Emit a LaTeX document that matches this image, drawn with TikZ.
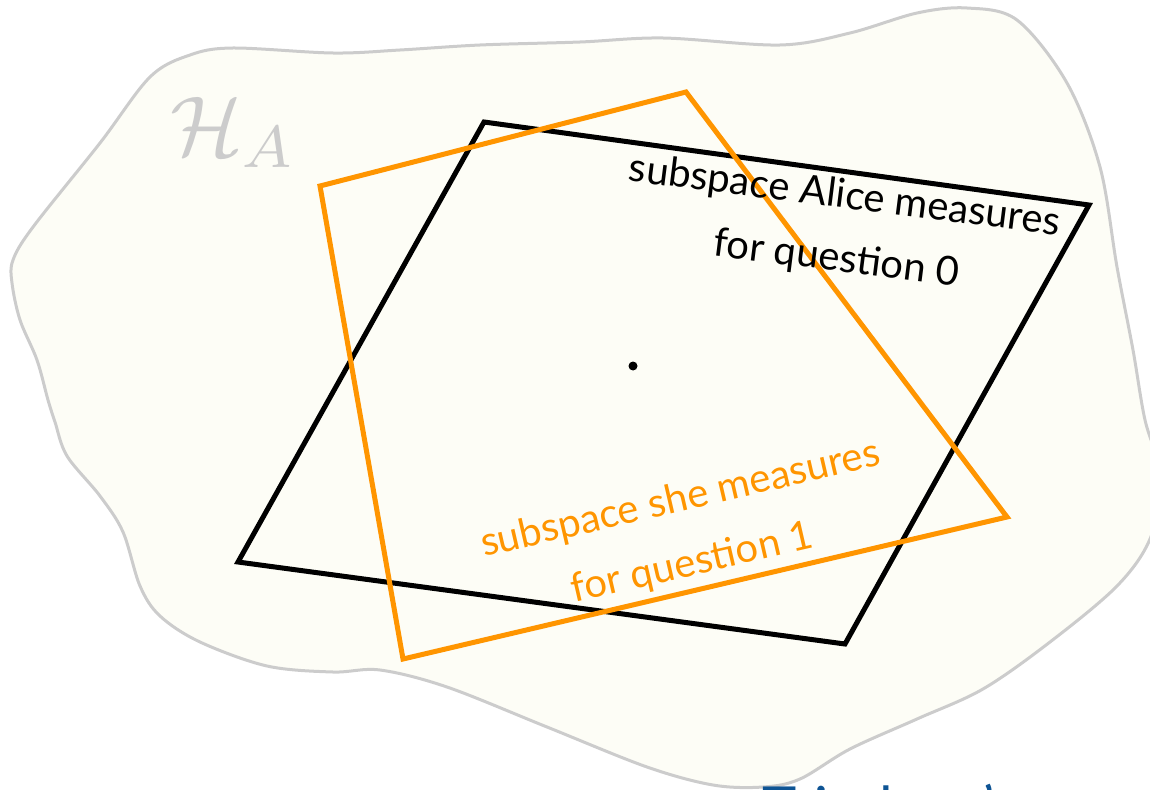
\documentclass[tikz,border=0pt]{standalone}
\usepackage{fontspec}
\setmainfont{Lato}
\definecolor{blobfill}{RGB}{253,253,246}
\definecolor{blobline}{RGB}{204,204,204}
\definecolor{orng}{RGB}{255,149,0}
\definecolor{titleblue}{RGB}{14,84,148}
\tikzset{
  blob/.style={fill=blobfill, draw=blobline, line width=3pt},
  subspace/.style={draw=black, line width=5pt, line join=miter},
  subspaceB/.style={draw=orng, line width=5pt, line join=miter},
  blacklabel/.style={anchor=base, inner sep=0pt, text=black, font=\fontsize{40}{48}\selectfont, rotate=-7.2},
  orangelabel/.style={anchor=base, inner sep=0pt, text=orng, font=\fontsize{40}{48}\selectfont, rotate=13},
}
\begin{document}
\begin{tikzpicture}[x=1pt,y=-1pt]
\useasboundingbox (0,0) rectangle (1150,789);
\begin{scope}
\clip (0,0) rectangle (1150,789);
\draw[blob] plot[smooth cycle, tension=0.55] coordinates {
 (233,48) (333,53) (400,50) (480,45) (580,42) (663,38) (780,45) (850,33) (917,13) (967,8) (1017,20)
 (1067,83) (1100,167) (1117,267) (1133,350) (1145,420) (1162,480) (1150,539) (1117,586) (1050,642)
 (983,689) (917,719) (850,749) (800,779) (763,787) (713,785) (647,767) (547,727) (447,687) (380,670)
 (333,672) (267,666) (200,642) (160,616) (140,586) (123,532) (100,496) (67,456) (55,422) (48,400)
 (37,360) (20,320) (12,283) (13,260) (33,227) (100,143) (150,77) (190,55)};
\node[anchor=base west, inner sep=0pt, text=titleblue, font=\fontsize{58}{70}\selectfont] (title) at (762,828) {Tsirelson's};
\end{scope}
\node[anchor=base west, inner sep=0pt, text=blobline] (HA) at (170,155) {\scalebox{8.5}{$\mathcal{H}_A$}};
% black subspace
\coordinate (b1) at (484,122);
\coordinate (b2) at (1089,205);
\coordinate (b3) at (845,644);
\coordinate (b4) at (238,562);
\draw[subspace] (b1) -- (b2) -- (b3) -- (b4) -- cycle;
% orange subspace
\coordinate (o1) at (320,186);
\coordinate (o2) at (686,92);
\coordinate (o3) at (1007,517);
\coordinate (o4) at (403,659);
\draw[subspaceB] (o1) -- (o2) -- (o3) -- (o4) -- cycle;
\fill (633,366) circle (4.5pt) coordinate (dot);
\node[blacklabel] (bl1) at (843,208) {subspace Alice measures};
\node[blacklabel] (bl2) at (835,271) {for question 0};
\node[orangelabel] (ol1) at (683,511) {subspace she measures};
\node[orangelabel] (ol2) at (695,575) {for question 1};
\end{tikzpicture}
\end{document}
